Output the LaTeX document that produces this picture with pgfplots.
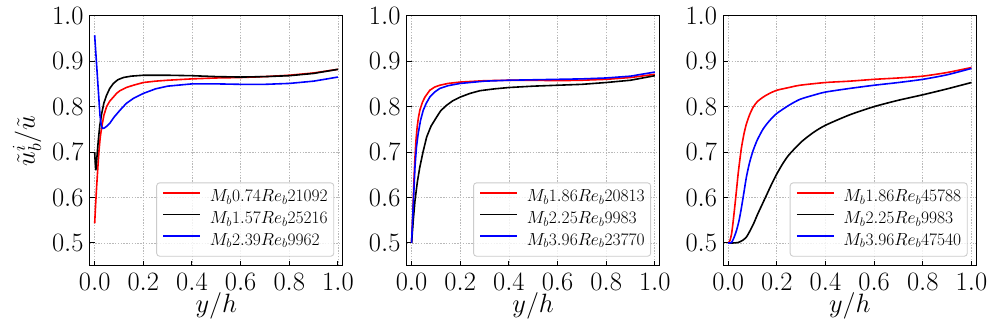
\RequirePackage{fix-cm}
\documentclass[border=0pt]{standalone}
\usepackage{pgfplots}
\pgfplotsset{compat=1.18}
\pgfplotsset{
  panel/.style={
    scale only axis, width=253pt, height=250pt, anchor=south west,
    xmin=-0.02, xmax=1.02, ymin=0.45, ymax=1.0,
    xtick={0,0.2,0.4,0.6,0.8,1.0}, ytick={0.5,0.6,0.7,0.8,0.9,1.0},
    xtick pos=bottom, ytick pos=left, tick align=inside,
    major tick length=5pt, tick style={black, line width=1pt},
    axis line style={black, line width=1.3pt},
    grid=major, major grid style={gray!55, line width=0.7pt, dash pattern=on 1.4pt off 1.4pt},
    tick label style={font=\fontsize{26.5}{30}\selectfont},
    xticklabel style={inner sep=0pt, anchor=north, yshift=-7.5pt,
      /pgf/number format/.cd, fixed, fixed zerofill, precision=1},
    yticklabel style={inner sep=0pt, anchor=east, xshift=-6pt,
      /pgf/number format/.cd, fixed, fixed zerofill, precision=1},
    label style={font=\fontsize{26.5}{30}\selectfont},
    xlabel={$y/h$},
    xlabel style={at={(axis description cs:0.5,-0.161)}, anchor=center},
    legend cell align=left,
    legend image code/.code={\draw[##1, line width=1.6pt] (0pt,5pt) -- (36.6pt,5pt);},
    legend style={at={(1,0)}, anchor=south east, xshift=-8.6pt, yshift=9pt,
      font=\fontsize{17.5}{21}\selectfont, draw=black!20, line width=0.9pt,
      rounded corners=3pt, fill=white, fill opacity=0.8, text opacity=1,
      inner xsep=6pt, inner ysep=6.5pt, row sep=4.7pt, column sep=9pt,
      nodes={inner sep=0pt, text height=12.5pt, text depth=4.5pt}},
  },
  every axis plot/.append style={line width=1.6pt},
}
\begin{document}
\begin{tikzpicture}
\useasboundingbox (0,0) rectangle (997pt,332pt);
% Panel 1
\begin{axis}[panel, at={(89.8pt,66.3pt)},
  ylabel={$\tilde{u}_b^i/\tilde{u}$},
  ylabel style={at={(axis description cs:-0.248,0.5)}, anchor=center}]
\addplot[red, line width=1.6pt] coordinates {(0,0.543) (0.004,0.585) (0.008,0.623) (0.013,0.665) (0.018,0.704) (0.023,0.733) (0.029,0.755) (0.038,0.781) (0.049,0.800) (0.062,0.812) (0.077,0.821) (0.09,0.829) (0.104,0.835) (0.13,0.842) (0.159,0.847) (0.2,0.853) (0.25,0.856) (0.3,0.858) (0.4,0.861) (0.5,0.863) (0.6,0.864) (0.7,0.866) (0.8,0.869) (0.9,0.874) (1.0,0.882)};
\addlegendentry{$M_b0.74Re_b21092$}
\addplot[black, line width=1.6pt] coordinates {(0,0.70) (0.002,0.68) (0.005,0.66) (0.008,0.68) (0.011,0.70) (0.015,0.726) (0.021,0.758) (0.029,0.785) (0.038,0.808) (0.049,0.825) (0.062,0.840) (0.077,0.851) (0.095,0.859) (0.118,0.864) (0.15,0.867) (0.2,0.869) (0.3,0.869) (0.4,0.868) (0.5,0.866) (0.6,0.865) (0.7,0.866) (0.8,0.868) (0.9,0.873) (1.0,0.882)};
\addlegendentry{$M_b1.57Re_b25216$}
\addplot[blue, line width=1.6pt] coordinates {(0,0.957) (0.012,0.86) (0.022,0.78) (0.027,0.760) (0.032,0.752) (0.04,0.753) (0.05,0.757) (0.063,0.764) (0.08,0.777) (0.104,0.792) (0.13,0.807) (0.159,0.818) (0.2,0.829) (0.25,0.839) (0.3,0.845) (0.4,0.850) (0.5,0.850) (0.6,0.849) (0.7,0.849) (0.8,0.851) (0.9,0.856) (1.0,0.865)};
\addlegendentry{$M_b2.39Re_b9962$}
\end{axis}
% Panel 2
\begin{axis}[panel, at={(406.7pt,66.3pt)}]
\addplot[red, line width=1.6pt] coordinates {(0,0.5) (0.004,0.55) (0.007,0.593) (0.01,0.64) (0.014,0.689) (0.018,0.725) (0.023,0.755) (0.028,0.775) (0.034,0.792) (0.045,0.81) (0.055,0.821) (0.075,0.836) (0.095,0.843) (0.116,0.847) (0.15,0.851) (0.2,0.854) (0.3,0.857) (0.4,0.858) (0.5,0.858) (0.6,0.857) (0.7,0.858) (0.8,0.860) (0.9,0.864) (1.0,0.871)};
\addlegendentry{$M_b1.86Re_b20813$}
\addplot[black, line width=1.6pt] coordinates {(0,0.5) (0.007,0.55) (0.014,0.593) (0.024,0.635) (0.034,0.667) (0.047,0.70) (0.062,0.733) (0.08,0.757) (0.103,0.777) (0.12,0.791) (0.144,0.803) (0.17,0.813) (0.2,0.821) (0.24,0.829) (0.281,0.835) (0.34,0.839) (0.4,0.842) (0.5,0.845) (0.6,0.847) (0.7,0.849) (0.8,0.853) (0.9,0.858) (1.0,0.868)};
\addlegendentry{$M_b2.25Re_b9983$}
\addplot[blue, line width=1.6pt] coordinates {(0,0.5) (0.005,0.56) (0.01,0.62) (0.014,0.667) (0.02,0.71) (0.027,0.74) (0.037,0.77) (0.048,0.792) (0.06,0.807) (0.075,0.821) (0.095,0.832) (0.116,0.84) (0.15,0.846) (0.2,0.851) (0.3,0.856) (0.4,0.858) (0.5,0.859) (0.6,0.860) (0.7,0.861) (0.8,0.863) (0.9,0.867) (1.0,0.876)};
\addlegendentry{$M_b3.96Re_b23770$}
\end{axis}
% Panel 3
\begin{axis}[panel, at={(723.3pt,66.3pt)}]
\addplot[red, line width=1.6pt, smooth, tension=0.4] coordinates {(0,0.5) (0.007,0.505) (0.014,0.52) (0.02,0.545) (0.027,0.579) (0.034,0.615) (0.041,0.652) (0.048,0.683) (0.055,0.711) (0.065,0.740) (0.075,0.762) (0.088,0.782) (0.103,0.799) (0.12,0.811) (0.144,0.821) (0.17,0.829) (0.2,0.836) (0.25,0.842) (0.295,0.847) (0.4,0.853) (0.5,0.856) (0.6,0.860) (0.7,0.863) (0.8,0.867) (0.9,0.875) (1.0,0.886)};
\addlegendentry{$M_b1.86Re_b45788$}
\addplot[black, line width=1.6pt, smooth, tension=0.4] coordinates {(0,0.5) (0.02,0.5) (0.041,0.501) (0.06,0.506) (0.075,0.513) (0.09,0.527) (0.105,0.543) (0.12,0.562) (0.14,0.585) (0.16,0.608) (0.18,0.631) (0.2,0.652) (0.225,0.675) (0.25,0.694) (0.3,0.722) (0.35,0.743) (0.4,0.759) (0.5,0.782) (0.6,0.800) (0.7,0.814) (0.8,0.826) (0.9,0.839) (1.0,0.853)};
\addlegendentry{$M_b2.25Re_b9983$}
\addplot[blue, line width=1.6pt, smooth, tension=0.4] coordinates {(0,0.5) (0.014,0.501) (0.024,0.512) (0.034,0.527) (0.045,0.55) (0.055,0.579) (0.065,0.612) (0.075,0.645) (0.088,0.677) (0.103,0.704) (0.12,0.727) (0.144,0.751) (0.17,0.769) (0.2,0.785) (0.25,0.803) (0.295,0.816) (0.35,0.825) (0.4,0.832) (0.5,0.840) (0.6,0.847) (0.7,0.853) (0.8,0.860) (0.9,0.870) (1.0,0.884)};
\addlegendentry{$M_b3.96Re_b47540$}
\end{axis}
\end{tikzpicture}
\end{document}
